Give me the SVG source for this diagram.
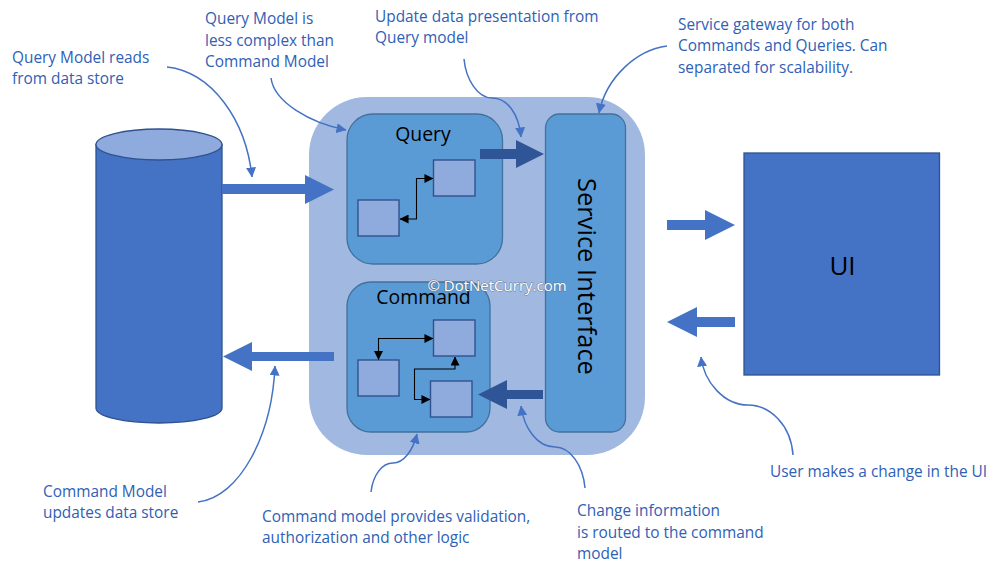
<svg xmlns="http://www.w3.org/2000/svg" width="1000" height="574" viewBox="0 0 1000 574">
<defs>
<style>
text{font-family:"Open Sans","Noto Sans","Liberation Sans",sans-serif}
.note{font-size:15.4px;fill:#2f60b6}
.title{font-size:19.4px;fill:#000}
.panel{fill:#5b9bd5;stroke:#41719c;stroke-width:1.3}
.box{fill:#8faadc;stroke:#2f528f;stroke-width:1.4}
.link{fill:none;stroke:#000;stroke-width:1.1}
.callout{fill:none;stroke:#4472c4;stroke-width:1.5}
.block{fill:#4472c4}
.dark{fill:#2f5597}
</style>
<marker id="tip" viewBox="0 0 10 10" refX="9.5" refY="5" markerUnits="userSpaceOnUse" markerWidth="10" markerHeight="10" orient="auto"><path d="M0 0L10 5L0 10Z" fill="#4472c4"/></marker>
<marker id="blk" viewBox="0 0 10 10" refX="9.5" refY="5" markerUnits="userSpaceOnUse" markerWidth="9" markerHeight="9" orient="auto-start-reverse"><path d="M0 0L10 5L0 10Z" fill="#000"/></marker>
</defs>
<g id="service-container"><rect x="309" y="97" width="336" height="358" rx="58" fill="#a1b8e1"/></g>
<g id="data-store">
<path d="M96 144.500V408C96 416.500 124 423 159 423S222 416.500 222 408V144.500Z" fill="#4472c4" stroke="#2f528f" stroke-width="1.300"/>
<ellipse cx="159" cy="144.500" rx="63" ry="15.500" fill="#8faadc" stroke="#2f528f" stroke-width="1.300"/>
</g>
<g id="query">
<rect class="panel" x="347" y="114" width="155.500" height="150" rx="26"/>
<text class="title" x="423" y="141" text-anchor="middle">Query</text>
<rect class="box" x="433.500" y="160" width="41.500" height="36"/>
<rect class="box" x="358" y="200" width="41" height="36"/>
</g>
<g id="command">
<rect class="panel" x="347" y="282" width="143" height="150" rx="24"/>
<text class="title" x="423.500" y="304" text-anchor="middle">Command</text>
<rect class="box" x="433.500" y="320" width="41.500" height="36"/>
<rect class="box" x="358" y="360" width="41" height="36"/>
<rect class="box" x="430.500" y="381" width="41.500" height="36"/>
</g>
<g id="service-interface">
<rect class="panel" x="545.500" y="114" width="80" height="318" rx="14"/>
<text class="title" style="font-size:25.5px" transform="translate(578 178) rotate(90)">Service Interface</text>
</g>
<g id="ui">
<rect x="744" y="153" width="195.500" height="222" fill="#4472c4" stroke="#2f528f" stroke-width="1.300"/>
<text x="842.500" y="275" text-anchor="middle" style="font-size:26px" fill="#000">UI</text>
</g>
<g id="connectors">
<path class="block" d="M222 184H305V175L334 189.500L305 204V194H222Z"/>
<path class="block" d="M334 352H252V342L223 356.500L252 371V361H334Z"/>
<path class="dark" d="M480 149H516V140L544 154L516 168V159H480Z"/>
<path class="dark" d="M543 390H507V380L478 394.500L507 409V399H543Z"/>
<path class="block" d="M667 220H705V210L735 225L705 240V230H667Z"/>
<path class="block" d="M735 317H697V307L667 322L697 337V327H735Z"/>
<path class="link" marker-start="url(#blk)" marker-end="url(#blk)" d="M400 219H416.500V178.500H433"/>
<path class="link" marker-start="url(#blk)" marker-end="url(#blk)" d="M378.500 359.500V338.500H433"/>
<path class="link" marker-start="url(#blk)" marker-end="url(#blk)" d="M430 399.500H414.500V369H455V357"/>
<path class="callout" marker-end="url(#tip)" d="M167 67C212 72 246 120 252 177"/>
<path class="callout" marker-end="url(#tip)" d="M271 78C274 102 310 123 346 130"/>
<path class="callout" marker-end="url(#tip)" d="M464 59C466 80 478 98 492 98C508 98 519 115 521 137"/>
<path class="callout" marker-end="url(#tip)" d="M667 46C636 50 606 78 599 113"/>
<path class="callout" marker-end="url(#tip)" d="M371 492C373 475 382 463 393 463C404 463 413 450 417 434"/>
<path class="callout" marker-end="url(#tip)" d="M585 488C583 465 570 447 555 447C537 447 524 428 521 406"/>
<path class="callout" marker-end="url(#tip)" d="M793 455C791 425 770 405 748 405C724 405 704 382 701 357"/>
<path class="callout" marker-end="url(#tip)" d="M198 502C240 497 272 435 275 366"/>
</g>
<g id="labels">
<text class="note" x="12" y="63">Query Model reads</text>
<text class="note" x="12" y="84">from data store</text>
<text class="note" x="205" y="24">Query Model is</text>
<text class="note" x="205" y="46">less complex than</text>
<text class="note" x="205" y="67">Command Model</text>
<text class="note" x="375" y="22">Update data presentation from</text>
<text class="note" x="375" y="43">Query model</text>
<text class="note" x="678" y="30">Service gateway for both</text>
<text class="note" x="678" y="51">Commands and Queries. Can</text>
<text class="note" x="678" y="73">separated for scalability.</text>
<text class="note" x="770" y="477">User makes a change in the UI</text>
<text class="note" x="43" y="497">Command Model</text>
<text class="note" x="43" y="518">updates data store</text>
<text class="note" x="262" y="522">Command model provides validation,</text>
<text class="note" x="262" y="543">authorization and other logic</text>
<text class="note" x="577" y="516">Change information</text>
<text class="note" x="577" y="538">is routed to the command</text>
<text class="note" x="577" y="559">model</text>
<text x="497" y="291" text-anchor="middle" style="font-size:15px;paint-order:stroke" fill="#ffffff" stroke="#5f6b80" stroke-width="1.100" stroke-opacity="0.75">© DotNetCurry.com</text>
</g>
</svg>
